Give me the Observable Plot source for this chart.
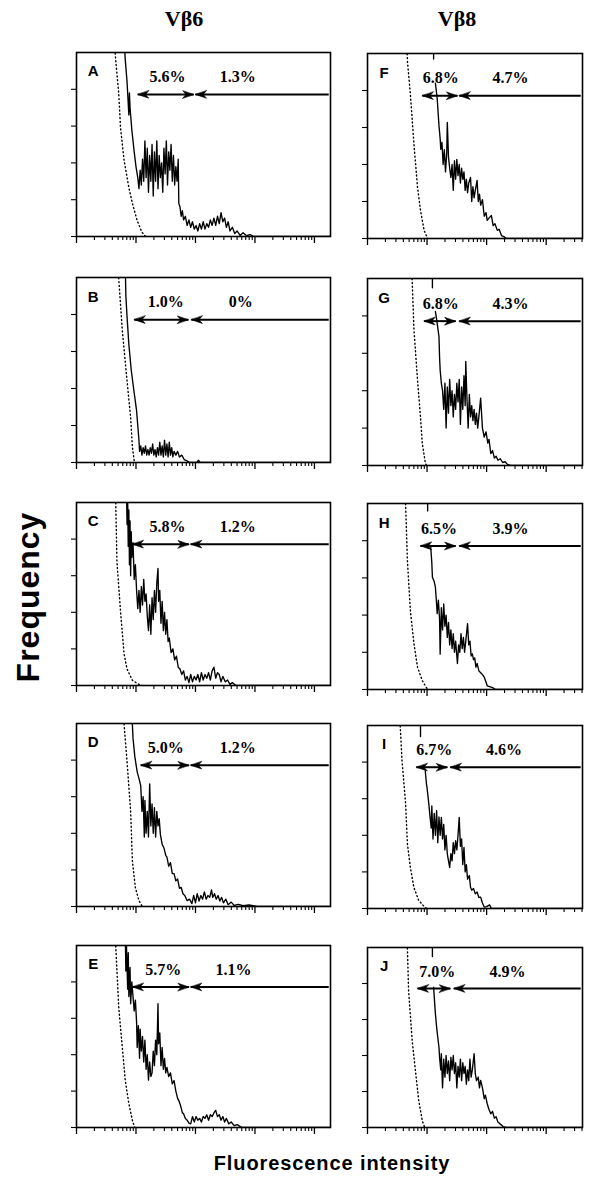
<!DOCTYPE html>
<html><head><meta charset="utf-8">
<script src="https://cdn.jsdelivr.net/npm/d3@7"></script>
<script src="https://cdn.jsdelivr.net/npm/@observablehq/plot@0.6"></script>
<style>
body{margin:0;background:#fff;}
#root{position:relative;width:603px;height:1182px;background:#fff;overflow:hidden;}
.abs{position:absolute;white-space:nowrap;color:#000;}
.abs svg{display:block;}
</style></head><body><div id="root"></div>
<script>
// ---------- text ----------
const columnTitles = ["Vβ6", "Vβ8"];
const yLabel = "Frequency";
const xLabel = "Fluorescence intensity";
const panelLetters = ["A","B","C","D","E","F","G","H","I","J"];
const innerPct = ["5.6%","1.0%","5.8%","5.0%","5.7%","6.8%","6.8%","6.5%","6.7%","7.0%"];
const outerPct = ["1.3%","0%","1.2%","1.2%","1.1%","4.7%","4.3%","3.9%","4.6%","4.9%"];
// gate boundaries (log10 fluorescence)
const gateLow  = [1.03,0.97,0.94,1.08,0.94,0.92,0.95,0.89,0.82,0.84];
const gateMid  = [1.97,1.88,1.89,1.89,1.89,1.51,1.48,1.48,1.34,1.39];
const gateHigh = [2.00,1.93,1.92,1.92,1.92,1.54,1.54,1.54,1.39,1.45];
const innerPctX = [1.53,1.50,1.53,1.50,1.46,1.23,1.23,1.20,1.12,1.17];
const outerPctX = [2.71,2.76,2.71,2.71,2.64,2.40,2.40,2.40,2.29,2.35];
// axis ticks
const decadeTicks = [1, 10, 100, 1000, 10000];
const minorMultipliers = [2,3,4,5,6,7,8,9];
const yTicks = [0,1,2,3,4];
const xMaxDecade = [4.27, 3.61];

// ---------- control (dotted) histograms: [log10 fluorescence, frequency] ----------
const ctrlA = [[0.62,5.6],[0.66,4.78],[0.71,3.89],[0.74,2.96],[0.80,2.07],[0.88,1.33],[0.94,0.90],[1.02,0.43],[1.10,0.12],[1.16,0]];
const ctrlB = [[0.70,5.3],[0.71,4.97],[0.77,3.57],[0.85,2.2],[0.91,1.22],[0.94,0.41],[0.97,0.05],[0.99,0]];
const ctrlC = [[0.65,5.3],[0.66,4.97],[0.68,3.38],[0.74,2.03],[0.80,0.86],[0.85,0.45],[0.94,0.14],[1.05,0.03],[1.10,0]];
const ctrlD = [[0.79,5.3],[0.80,4.97],[0.85,3.95],[0.91,2.6],[0.94,1.24],[0.99,0.51],[1.05,0.16],[1.10,0.02],[1.13,0]];
const ctrlE = [[0.65,5.3],[0.66,4.97],[0.71,3.3],[0.77,2.2],[0.82,1.29],[0.88,0.66],[0.94,0.19],[0.98,0]];
const ctrlF = [[0.66,5.3],[0.67,4.8],[0.72,3.9],[0.78,2.55],[0.84,1.38],[0.89,0.76],[0.95,0.22],[1.01,0]];
const ctrlG = [[0.74,5.3],[0.75,4.97],[0.78,3.63],[0.84,2.28],[0.89,1.29],[0.92,0.59],[0.97,0.08],[0.99,0]];
const ctrlH = [[0.63,5.3],[0.64,4.97],[0.67,3.47],[0.72,2.12],[0.78,1.23],[0.84,0.6],[0.92,0.24],[0.99,0.05],[1.02,0]];
const ctrlI = [[0.54,5.3],[0.55,4.97],[0.58,4.03],[0.64,2.86],[0.67,1.77],[0.72,1.12],[0.78,0.57],[0.86,0.22],[0.97,0.02],[1.00,0]];
const ctrlJ = [[0.66,5.3],[0.67,4.97],[0.69,3.8],[0.75,2.42],[0.81,1.5],[0.86,0.75],[0.92,0.19],[0.96,0]];

// ---------- stained (solid) histograms ----------
const stainA = [[0.79,5.6],[0.82,4.8],[0.85,4.2],[0.87,3.6],[0.88,3.3],[0.89,3.9],[0.90,3.5],[0.93,2.9],[0.97,2.3],[1.00,1.9],[1.03,1.6],[1.05,1.3],[1.07,1.8],[1.09,1.4],[1.11,2.1],[1.13,1.5],[1.15,2.6],[1.17,1.6],[1.19,2.4],[1.21,1.2],[1.23,2.2],[1.25,1.5],[1.27,2.5],[1.29,1.1],[1.31,2.3],[1.33,1.5],[1.35,2.6],[1.37,1.3],[1.39,2.2],[1.41,1.6],[1.43,2.0],[1.45,1.2],[1.47,2.4],[1.49,1.7],[1.51,2.6],[1.53,1.4],[1.55,2.3],[1.57,1.8],[1.59,2.5],[1.61,1.5],[1.63,2.2],[1.65,1.4],[1.67,1.9],[1.69,1.5],[1.71,2.1],[1.72,0.9],[1.74,0.8],[1.76,0.55],[1.78,0.7],[1.80,0.45],[1.83,0.55],[1.86,0.3],[1.89,0.45],[1.92,0.25],[1.95,0.4],[1.98,0.2],[2.01,0.3],[2.04,0.15],[2.07,0.35],[2.10,0.2],[2.13,0.4],[2.16,0.2],[2.19,0.35],[2.22,0.25],[2.25,0.45],[2.28,0.3],[2.31,0.5],[2.34,0.3],[2.37,0.55],[2.40,0.35],[2.43,0.65],[2.46,0.4],[2.49,0.5],[2.52,0.25],[2.55,0.4],[2.58,0.15],[2.62,0.25],[2.66,0.08],[2.70,0.15],[2.75,0.03],[2.80,0.1],[2.86,0.02],[2.92,0.05],[2.98,0],[4.3,0]];
const stainB = [[0.82,5.3],[0.83,4.5],[0.85,3.93],[0.88,3.2],[0.92,2.5],[0.96,2.0],[1.01,1.4],[1.05,0.6],[1.06,0.3],[1.08,0.45],[1.10,0.2],[1.12,0.4],[1.14,0.25],[1.16,0.45],[1.18,0.2],[1.20,0.35],[1.22,0.2],[1.24,0.4],[1.26,0.25],[1.28,0.5],[1.30,0.2],[1.32,0.35],[1.34,0.15],[1.36,0.4],[1.38,0.2],[1.40,0.55],[1.42,0.2],[1.44,0.45],[1.46,0.15],[1.48,0.6],[1.50,0.2],[1.52,0.5],[1.54,0.15],[1.56,0.55],[1.58,0.2],[1.60,0.4],[1.62,0.15],[1.64,0.3],[1.67,0.2],[1.70,0.3],[1.73,0.15],[1.77,0.2],[1.81,0.08],[1.85,0.05],[1.90,0],[2.02,0],[2.05,0.06],[2.08,0],[4.3,0]];
const stainC = [[0.84,5.3],[0.85,4.4],[0.86,5.1],[0.87,3.8],[0.88,4.8],[0.89,3.3],[0.90,4.5],[0.91,3.0],[0.92,4.2],[0.93,3.5],[0.95,3.9],[0.97,2.9],[0.99,3.3],[1.01,2.6],[1.03,2.1],[1.05,2.6],[1.07,2.0],[1.09,2.7],[1.11,2.2],[1.13,2.9],[1.15,2.3],[1.17,2.5],[1.19,1.9],[1.21,1.5],[1.23,2.2],[1.25,1.4],[1.27,2.4],[1.29,1.8],[1.31,2.6],[1.33,2.0],[1.35,2.8],[1.37,3.2],[1.38,2.3],[1.40,2.6],[1.42,1.7],[1.44,2.3],[1.46,1.5],[1.48,2.0],[1.50,1.4],[1.52,1.8],[1.54,1.2],[1.56,1.3],[1.59,0.9],[1.62,1.0],[1.65,0.7],[1.68,0.8],[1.71,0.5],[1.74,0.45],[1.77,0.3],[1.80,0.4],[1.83,0.15],[1.86,0.25],[1.89,0.08],[1.92,0.3],[1.95,0.1],[1.98,0.25],[2.01,0.15],[2.04,0.3],[2.07,0.1],[2.10,0.35],[2.13,0.15],[2.16,0.3],[2.19,0.2],[2.22,0.35],[2.25,0.15],[2.28,0.4],[2.31,0.5],[2.34,0.2],[2.37,0.35],[2.40,0.3],[2.43,0.1],[2.46,0.25],[2.50,0.1],[2.54,0.15],[2.58,0.03],[2.62,0.08],[2.68,0],[4.3,0]];
const stainD = [[0.93,5.3],[0.95,4.6],[0.98,4.1],[1.02,3.68],[1.05,3.5],[1.08,3.3],[1.10,2.6],[1.12,3.0],[1.14,1.9],[1.15,2.9],[1.17,2.0],[1.19,2.6],[1.21,1.9],[1.23,3.35],[1.25,2.2],[1.27,2.8],[1.29,2.0],[1.31,2.7],[1.33,1.9],[1.35,2.6],[1.37,2.2],[1.39,2.4],[1.41,1.97],[1.44,1.7],[1.47,1.6],[1.50,1.4],[1.52,1.35],[1.55,1.1],[1.58,1.2],[1.61,0.9],[1.64,0.9],[1.67,0.7],[1.70,0.75],[1.73,0.5],[1.76,0.52],[1.79,0.35],[1.82,0.3],[1.86,0.16],[1.90,0.2],[1.94,0.08],[1.97,0.3],[2.00,0.1],[2.03,0.35],[2.06,0.15],[2.09,0.3],[2.12,0.2],[2.15,0.4],[2.18,0.2],[2.21,0.3],[2.24,0.25],[2.27,0.45],[2.29,0.25],[2.32,0.35],[2.35,0.2],[2.38,0.3],[2.41,0.15],[2.44,0.25],[2.47,0.1],[2.51,0.2],[2.55,0.05],[2.60,0.12],[2.65,0.03],[2.72,0.06],[2.80,0.02],[2.90,0.04],[3.04,0],[4.3,0]];
const stainE = [[0.82,5.3],[0.83,4.3],[0.84,5.0],[0.86,3.8],[0.87,4.8],[0.88,3.6],[0.90,4.4],[0.91,3.4],[0.93,4.0],[0.95,3.6],[0.97,3.2],[0.99,3.5],[1.01,2.9],[1.02,2.2],[1.04,2.8],[1.06,1.9],[1.07,2.7],[1.09,2.1],[1.11,2.5],[1.13,1.8],[1.15,2.4],[1.17,1.6],[1.19,2.0],[1.21,1.3],[1.23,1.8],[1.25,1.4],[1.27,1.5],[1.29,2.1],[1.31,1.7],[1.33,2.4],[1.35,2.0],[1.37,3.4],[1.38,2.3],[1.40,2.6],[1.42,1.7],[1.44,2.2],[1.46,1.6],[1.48,1.9],[1.50,1.5],[1.52,1.65],[1.55,1.4],[1.58,1.5],[1.61,1.2],[1.64,1.29],[1.67,1.0],[1.70,0.8],[1.72,0.74],[1.75,0.6],[1.78,0.4],[1.80,0.38],[1.83,0.25],[1.86,0.2],[1.89,0.12],[1.92,0.1],[1.95,0.3],[1.98,0.15],[2.01,0.3],[2.04,0.2],[2.07,0.25],[2.10,0.15],[2.13,0.3],[2.16,0.25],[2.19,0.35],[2.22,0.2],[2.25,0.35],[2.28,0.3],[2.31,0.4],[2.34,0.47],[2.37,0.3],[2.40,0.35],[2.43,0.2],[2.46,0.3],[2.49,0.15],[2.52,0.25],[2.56,0.1],[2.60,0.15],[2.65,0.05],[2.70,0.08],[2.78,0],[4.3,0]];
const stainF = [[1.11,5.3],[1.11,4.85],[1.11,NaN],[1.14,4.2],[1.17,3.79],[1.19,3.3],[1.20,3.05],[1.22,2.7],[1.23,2.41],[1.25,2.6],[1.27,2.0],[1.29,2.4],[1.31,1.8],[1.33,2.3],[1.34,3.14],[1.36,2.2],[1.38,1.9],[1.40,1.65],[1.42,2.0],[1.44,1.3],[1.46,2.1],[1.48,1.6],[1.50,2.14],[1.52,1.7],[1.54,2.0],[1.56,1.5],[1.58,1.9],[1.60,1.6],[1.62,1.8],[1.64,1.3],[1.66,1.6],[1.68,1.24],[1.70,1.5],[1.73,1.65],[1.75,1.0],[1.77,1.4],[1.79,1.1],[1.81,1.3],[1.84,1.57],[1.86,1.0],[1.88,1.2],[1.90,0.9],[1.93,1.05],[1.96,0.6],[1.99,0.7],[2.01,0.49],[2.04,0.55],[2.08,0.62],[2.11,0.35],[2.14,0.4],[2.18,0.22],[2.21,0.25],[2.25,0.08],[2.29,0.05],[2.33,0],[3.7,0]];
const stainG = [[1.09,5.3],[1.09,4.75],[1.09,NaN],[1.14,4.12],[1.17,3.8],[1.20,3.45],[1.21,2.9],[1.22,2.55],[1.24,2.2],[1.26,2.0],[1.28,1.5],[1.30,2.2],[1.32,1.0],[1.34,2.1],[1.36,1.4],[1.38,2.3],[1.40,1.6],[1.42,2.0],[1.44,1.3],[1.46,1.9],[1.48,1.5],[1.50,2.2],[1.52,1.7],[1.54,2.3],[1.56,1.1],[1.58,2.1],[1.60,1.5],[1.62,2.4],[1.64,1.6],[1.65,2.78],[1.67,1.8],[1.69,1.0],[1.71,1.9],[1.73,1.3],[1.75,1.6],[1.77,1.2],[1.79,1.5],[1.81,1.1],[1.83,1.4],[1.85,1.0],[1.87,1.3],[1.90,1.8],[1.93,1.0],[1.96,0.76],[1.99,0.9],[2.02,0.6],[2.04,0.7],[2.07,0.32],[2.10,0.4],[2.13,0.2],[2.16,0.25],[2.19,0.14],[2.23,0.18],[2.27,0.08],[2.31,0.1],[2.35,0.03],[2.40,0],[3.7,0]];
const stainH = [[1.01,5.3],[1.01,4.8],[1.01,NaN],[1.06,3.87],[1.08,3.4],[1.09,3.02],[1.12,2.9],[1.14,2.75],[1.16,2.3],[1.17,2.04],[1.19,2.4],[1.21,1.9],[1.22,0.95],[1.24,2.2],[1.26,1.6],[1.28,2.3],[1.30,1.7],[1.32,2.0],[1.34,1.4],[1.36,1.8],[1.38,1.2],[1.40,1.6],[1.42,1.1],[1.44,1.5],[1.46,1.0],[1.48,1.3],[1.51,0.7],[1.53,1.2],[1.55,1.0],[1.57,1.5],[1.59,1.1],[1.61,1.4],[1.63,1.0],[1.65,1.3],[1.68,1.77],[1.70,1.2],[1.72,1.3],[1.74,0.9],[1.76,0.96],[1.78,0.8],[1.80,0.85],[1.82,0.6],[1.84,0.7],[1.87,0.5],[1.90,0.45],[1.93,0.4],[1.96,0.33],[1.99,0.2],[2.01,0.1],[2.05,0.08],[2.10,0.05],[2.15,0],[3.7,0]];
const stainI = [[0.89,5.3],[0.89,4.7],[0.89,NaN],[0.97,3.76],[0.99,3.4],[1.00,3.3],[1.03,2.85],[1.05,2.5],[1.07,2.2],[1.08,2.8],[1.10,1.9],[1.12,2.6],[1.14,2.0],[1.16,2.67],[1.18,1.8],[1.20,2.5],[1.22,2.0],[1.24,2.49],[1.26,1.9],[1.28,2.3],[1.30,1.6],[1.32,2.0],[1.34,1.49],[1.36,1.3],[1.38,1.12],[1.40,1.5],[1.42,1.3],[1.44,1.8],[1.46,1.5],[1.48,1.85],[1.50,1.6],[1.52,2.0],[1.54,2.49],[1.56,1.7],[1.58,1.9],[1.60,1.2],[1.62,1.67],[1.64,1.0],[1.66,1.2],[1.68,0.8],[1.71,0.9],[1.73,0.58],[1.75,0.5],[1.78,0.55],[1.81,0.4],[1.84,0.45],[1.87,0.3],[1.90,0.31],[1.93,0.15],[1.96,0.04],[2.00,0.05],[2.05,0.1],[2.08,0],[3.7,0]];
const stainJ = [[1.09,5.3],[1.09,4.75],[1.09,NaN],[1.11,3.9],[1.13,3.4],[1.14,3.17],[1.16,2.8],[1.18,2.5],[1.20,2.23],[1.21,1.95],[1.23,1.6],[1.24,2.05],[1.26,1.1],[1.28,1.9],[1.30,1.4],[1.32,2.0],[1.34,1.5],[1.36,1.85],[1.38,1.3],[1.40,1.95],[1.42,1.6],[1.44,2.0],[1.46,1.5],[1.48,1.8],[1.50,1.1],[1.52,1.7],[1.54,1.4],[1.56,1.9],[1.58,1.3],[1.60,1.8],[1.62,1.5],[1.64,1.7],[1.66,1.2],[1.68,1.6],[1.70,1.3],[1.72,1.9],[1.74,1.4],[1.76,1.6],[1.79,2.05],[1.81,1.5],[1.83,1.3],[1.86,1.4],[1.88,1.1],[1.90,1.31],[1.93,1.1],[1.96,0.8],[1.98,0.9],[2.01,0.66],[2.04,0.5],[2.07,0.38],[2.10,0.45],[2.13,0.26],[2.16,0.3],[2.19,0.15],[2.24,0.08],[2.28,0.02],[2.33,0],[3.7,0]];

const ctrls  = [ctrlA, ctrlB, ctrlC, ctrlD, ctrlE, ctrlF, ctrlG, ctrlH, ctrlI, ctrlJ];
const stains = [stainA, stainB, stainC, stainD, stainE, stainF, stainG, stainH, stainI, stainJ];

// ---------- layout (pixels) ----------
const colLeft = [76, 367], colRight = [330, 582];
const panelTop    = [52, 277, 502, 723, 945, 53, 278, 503, 725, 947];
const panelBottom = [236, 462, 685, 906, 1127, 238, 465, 689, 908, 1127];
const mL = 14, mR = 4, mT = 4, mB = 12;
const ARROW_Y = 3.86, PCT_Y = 4.33, LETTER_Y = 4.48, LETTER_X = 0.28;

const root = document.getElementById("root");
function addDiv(css, text) {
  const d = document.createElement("div");
  d.className = "abs";
  d.style.cssText = css;
  if (text != null) d.textContent = text;
  root.appendChild(d);
  return d;
}

// titles
addDiv("left:184px;top:6px;transform:translateX(-50%);font:bold 22px 'Liberation Serif',serif;", columnTitles[0]);
addDiv("left:457px;top:6px;transform:translateX(-50%);font:bold 22px 'Liberation Serif',serif;", columnTitles[1]);
addDiv("left:28px;top:597px;transform:translate(-50%,-50%) rotate(-90deg);font:bold 32px 'Liberation Sans',Arial,sans-serif;letter-spacing:1px;", yLabel);
addDiv("left:332px;top:1163px;transform:translate(-50%,-50%);font:bold 20px 'Liberation Sans',Arial,sans-serif;letter-spacing:0.9px;", xLabel);

const head = { draw(ctx, l, r) { ctx.moveTo(0, -l); ctx.lineTo(-r, 0); ctx.lineTo(0, -l * 0.3); ctx.lineTo(r, 0); ctx.closePath(); } };
const X = d => 10 ** d[0], Y = d => d[1];

panelLetters.forEach((letter, i) => {
  const col = i < 5 ? 0 : 1;
  const xmax = xMaxDecade[col];
  const left = colLeft[col], right = colRight[col];
  const top = panelTop[i], bottom = panelBottom[i];
  const minors = decadeTicks.flatMap(t => minorMultipliers.map(m => m * t)).filter(v => v <= 10 ** xmax);
  const majors = decadeTicks.filter(v => v <= 10 ** xmax);
  const segs = [
    {a: gateLow[i], b: gateMid[i]},
    {a: gateHigh[i], b: xmax - 0.03}
  ];
  const heads = [
    {x: gateLow[i], rot: -90},
    {x: gateMid[i], rot: 90},
    {x: gateHigh[i], rot: -90}
  ];
  const labels = [
    {x: innerPctX[i], t: innerPct[i]},
    {x: outerPctX[i], t: outerPct[i]}
  ];
  const chart = Plot.plot({
    width: right - left + mL + mR,
    height: bottom - top + mT + mB,
    marginLeft: mL, marginRight: mR, marginTop: mT, marginBottom: mB,
    x: {type: "log", domain: [1, 10 ** xmax], axis: null},
    y: {domain: [0, 5], axis: null},
    style: {background: "transparent", overflow: "visible"},
    marks: [
      Plot.line(ctrls[i], {x: X, y: Y, stroke: "#000", strokeWidth: 1.4, strokeDasharray: "1,2.8", clip: true}),
      Plot.line(stains[i], {x: X, y: Y, stroke: "#000", strokeWidth: 1.35, clip: true}),
      Plot.axisX({ticks: minors, tickSize: 4, tickFormat: () => "", label: null, strokeWidth: 1.1}),
      Plot.axisX({ticks: majors, tickSize: 7, tickFormat: () => "", label: null, strokeWidth: 1.3}),
      Plot.axisY({ticks: yTicks, tickSize: 5, tickFormat: () => "", label: null, strokeWidth: 1.1}),
      Plot.frame({stroke: "#000", strokeWidth: 1.6}),
      Plot.link(segs, {x1: d => 10 ** d.a, x2: d => 10 ** d.b, y1: () => ARROW_Y, y2: () => ARROW_Y, stroke: "#000", strokeWidth: 2}),
      Plot.vector(heads, {x: d => 10 ** d.x, y: () => ARROW_Y, rotate: d => d.rot, length: 11, r: 3.8, anchor: "end", shape: head, fill: "#000", stroke: "#000", strokeWidth: 0.6}),
      Plot.text(labels, {x: d => 10 ** d.x, y: () => PCT_Y, text: d => d.t, fontFamily: "'Liberation Serif', serif", fontWeight: "bold", fontSize: 16, fill: "#000"}),
      Plot.text([letter], {x: () => 10 ** LETTER_X, y: () => LETTER_Y, text: d => d, fontFamily: "'Liberation Sans', Arial, sans-serif", fontWeight: "bold", fontSize: 15, fill: "#000"})
    ]
  });
  const holder = addDiv(`left:${left - mL}px;top:${top - mT}px;`);
  holder.appendChild(chart);
});
</script>
</body></html>
